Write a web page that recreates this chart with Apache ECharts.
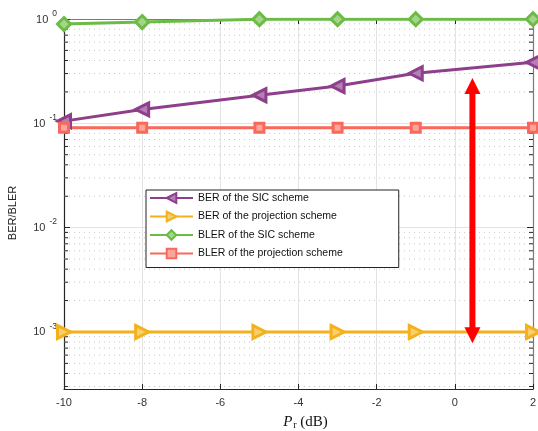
<!DOCTYPE html>
<html>
<head>
<meta charset="utf-8">
<script src="https://cdn.jsdelivr.net/npm/echarts@6/dist/echarts.min.js"></script>
<style>
html,body{margin:0;padding:0;background:#fff;}
#chart{width:538px;height:431px;}
</style>
</head>
<body>
<div id="chart"></div>
<script>
// ---- data ----
const xSIC = [-10, -8, -5, -3, -1, 2];
const berSIC = [0.105, 0.136, 0.186, 0.228, 0.302, 0.384];
const berProj = [0.001, 0.001, 0.001, 0.001, 0.001, 0.001];
const blerSIC = [0.895, 0.935, 0.995, 0.995, 0.995, 0.995];
const blerProj = [0.0905, 0.0905, 0.0905, 0.0905, 0.0905, 0.0905];
const seriesNames = ['BER of the SIC scheme', 'BER of the projection scheme', 'BLER of the SIC scheme', 'BLER of the projection scheme'];
const xTicks = [-10, -8, -6, -4, -2, 0, 2];
const yMin = 2.84e-4, yMax = 1;
const minorTicks = [3e-4,4e-4,5e-4,6e-4,7e-4,8e-4,9e-4,
  2e-3,3e-3,4e-3,5e-3,6e-3,7e-3,8e-3,9e-3,
  2e-2,3e-2,4e-2,5e-2,6e-2,7e-2,8e-2,9e-2,
  0.2,0.3,0.4,0.5,0.6,0.7,0.8,0.9];
const arrowX = 0.45, arrowTop = 0.272, arrowBottom = 7.8e-4;

const colors = {purple:'#8E3F8C', yellow:'#F4B11B', green:'#6CBB47', red:'#F9695B'};
const fills = {purple:'#B57FB3', yellow:'#F9D070', green:'#A4D68A', red:'#FBA59C'};

function pts(xs, ys){ return xs.map((x,i)=>[x, ys[i]]); }

const chart = echarts.init(document.getElementById('chart'), null, {renderer:'canvas'});

function mkLine(name, data, color, fill, symbol, rot, size){
  return {
    name, type:'line', data, xAxisIndex:0, yAxisIndex:0,
    color,
    symbol, symbolSize:size, symbolRotate:rot,
    showAllSymbol:true,
    lineStyle:{color, width:3},
    itemStyle:{color:fill, borderColor:color, borderWidth:3},
    emphasis:{disabled:true},
    z:5,
    animation:false
  };
}

const option = {
  animation:false,
  backgroundColor:'#fff',
  grid:{left:64, right:5, top:19, bottom:42, containLabel:false, outerBoundsMode:'none'},
  legend:{
    orient:'vertical', left:146, top:190,
    width:253,
    data:seriesNames,
    itemWidth:43, itemHeight:12, itemGap:6.5,
    padding:[2, 56, 8, 3],
    backgroundColor:'#fff', borderColor:'#222', borderWidth:1, borderRadius:0,
    textStyle:{fontFamily:'Liberation Sans, Arial, sans-serif', fontSize:10.5, color:'#111', lineHeight:12},
    selectedMode:false,
    z:20
  },
  xAxis:[{
    type:'value', min:-10, max:2, interval:2, position:'bottom',
    name:'{i|P}{s|r}{n| (dB)}', nameLocation:'middle', nameGap:23,
    nameTextStyle:{rich:{
      i:{fontFamily:'Liberation Serif, Times New Roman, serif', fontStyle:'italic', fontSize:15, color:'#111', verticalAlign:'bottom', lineHeight:18},
      s:{fontFamily:'Liberation Serif, Times New Roman, serif', fontSize:10, color:'#111', verticalAlign:'bottom', lineHeight:14, padding:[0,0,0,1]},
      n:{fontFamily:'Liberation Serif, Times New Roman, serif', fontSize:15, color:'#111', verticalAlign:'bottom', lineHeight:18}
    }, padding:[0,0,0,14]},
    axisLine:{show:true, onZero:false, lineStyle:{color:'#262626', width:1.2}},
    axisTick:{show:true, inside:true, length:5, lineStyle:{color:'#262626'}},
    axisLabel:{color:'#333', fontFamily:'Liberation Sans, Arial, sans-serif', fontSize:11, margin:8},
    splitLine:{show:true, lineStyle:{color:'#e3e3e3', width:1}}
  },{
    type:'value', min:-10, max:2, interval:2, position:'top',
    axisLine:{show:true, onZero:false, lineStyle:{color:'#7a7a7a', width:1.2}},
    axisTick:{show:true, inside:true, length:5, lineStyle:{color:'#262626'}},
    axisLabel:{show:false}, splitLine:{show:false}
  }],
  yAxis:[{
    type:'log', logBase:10, min:yMin, max:yMax, position:'left',
    name:'BER/BLER', nameLocation:'middle', nameGap:46, nameRotate:90,
    nameTextStyle:{fontFamily:'Liberation Sans, Arial, sans-serif', fontSize:11, color:'#222', padding:[0,18,0,0]},
    axisLine:{show:true, onZero:false, lineStyle:{color:'#262626', width:1.2}},
    axisTick:{show:true, inside:true, length:6, lineStyle:{color:'#262626'}},
    axisLabel:{
      showMinLabel:false, margin:7, padding:[0,0,4,0],
      formatter:function(v){
        const e = Math.log10(v);
        const r = Math.round(e);
        if (Math.abs(e - r) > 1e-6) return '';
        return '{b|10}{s|' + r + '}';
      },
      rich:{
        b:{fontFamily:'Liberation Sans, Arial, sans-serif', fontSize:11, color:'#333', verticalAlign:'bottom', lineHeight:16},
        s:{fontFamily:'Liberation Sans, Arial, sans-serif', fontSize:8.5, color:'#333', verticalAlign:'top', lineHeight:16, padding:[0,0,0,4]}
      }
    },
    splitLine:{show:true, lineStyle:{color:'#e3e3e3', width:1}}
  },{
    type:'log', logBase:10, min:yMin, max:yMax, position:'right',
    axisLine:{show:true, onZero:false, lineStyle:{color:'#7a7a7a', width:1.2}},
    axisTick:{show:true, inside:true, length:6, lineStyle:{color:'#262626'}},
    axisLabel:{show:false}, splitLine:{show:false}
  }],
  series:[
    {
      type:'custom', name:'minor', xAxisIndex:0, yAxisIndex:0, silent:true, z:1,
      data: minorTicks.map(v=>[-10, v]),
      encode:{x:0, y:1},
      renderItem:function(params, api){
        const y = api.coord([-10, api.value(1)])[1];
        const cs = params.coordSys;
        return {type:'group', children:[
          {type:'line', shape:{x1:cs.x, y1:y, x2:cs.x+cs.width, y2:y}, style:{stroke:'#c8c8c8', lineWidth:1, lineDash:[1,4]}},
          {type:'line', shape:{x1:cs.x, y1:y, x2:cs.x+4, y2:y}, style:{stroke:'#262626', lineWidth:1}},
          {type:'line', shape:{x1:cs.x+cs.width-4, y1:y, x2:cs.x+cs.width, y2:y}, style:{stroke:'#262626', lineWidth:1}}
        ]};
      }
    },
    mkLine(seriesNames[0], pts(xSIC, berSIC), colors.purple, fills.purple, 'triangle', 90, 13),
    mkLine(seriesNames[1], pts(xSIC, berProj), colors.yellow, fills.yellow, 'triangle', -90, 13),
    mkLine(seriesNames[2], pts(xSIC, blerSIC), colors.green, fills.green, 'diamond', 0, 13),
    mkLine(seriesNames[3], pts(xSIC, blerProj), colors.red, fills.red, 'rect', 0, 9),
    {
      type:'custom', name:'arrow', xAxisIndex:0, yAxisIndex:0, silent:true, z:10,
      data:[[arrowX, arrowTop, arrowBottom]],
      encode:{x:0, y:[1,2]},
      renderItem:function(params, api){
        const p1 = api.coord([api.value(0), api.value(1)]);
        const p2 = api.coord([api.value(0), api.value(2)]);
        const x = p1[0], hw = 8, hl = 16, sw = 3;
        return {type:'group', children:[
          {type:'rect', shape:{x:x-sw, y:p1[1]+hl-1, width:2*sw, height:(p2[1]-p1[1])-2*hl+2}, style:{fill:'#ff0000'}},
          {type:'polygon', shape:{points:[[x,p1[1]],[x-hw,p1[1]+hl],[x+hw,p1[1]+hl]]}, style:{fill:'#ff0000'}},
          {type:'polygon', shape:{points:[[x,p2[1]],[x-hw,p2[1]-hl],[x+hw,p2[1]-hl]]}, style:{fill:'#ff0000'}}
        ]};
      }
    }
  ]
};
chart.setOption(option);
</script>
</body>
</html>
